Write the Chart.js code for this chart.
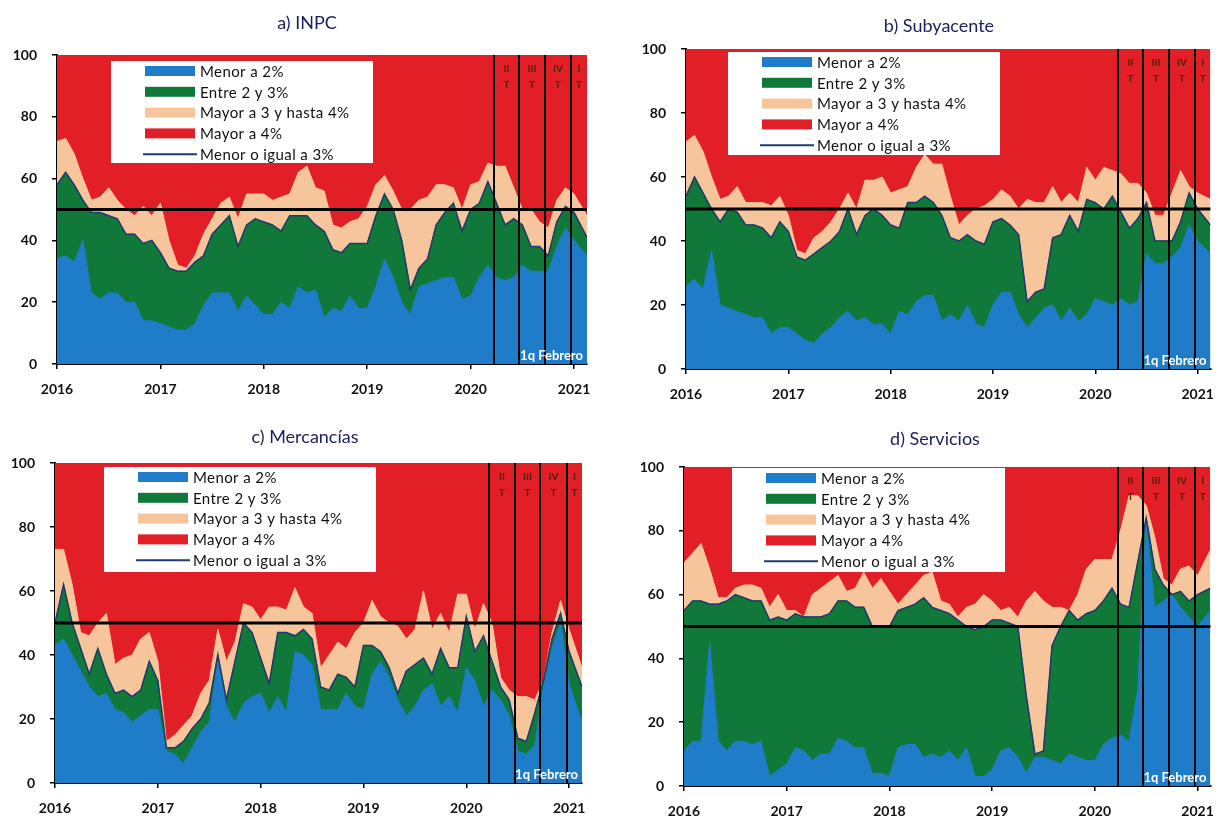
<!DOCTYPE html>
<html>
<head>
<meta charset="utf-8">
<script src="https://cdn.jsdelivr.net/npm/chart.js@4.4.0/dist/chart.umd.min.js"></script>
<style>
  body { margin: 0; background: #fff; width: 1226px; height: 818px; position: relative; overflow: hidden; font-family: Lato, sans-serif; }
  canvas { position: absolute; }
  .titulo { position: absolute; font-size: 18px; color: #1b1f5e; transform: translate(-50%, -50%); white-space: nowrap; }
</style>
</head>
<body>
<canvas id="g-a" width="613" height="409" style="left:0;top:0"></canvas>
<canvas id="g-b" width="613" height="409" style="left:613px;top:0"></canvas>
<canvas id="g-c" width="613" height="409" style="left:0;top:409px"></canvas>
<canvas id="g-d" width="613" height="409" style="left:613px;top:409px"></canvas>
<div class="titulo" style="left:307px;top:22px">a) INPC</div>
<div class="titulo" style="left:939px;top:25px">b) Subyacente</div>
<div class="titulo" style="left:305px;top:436px">c) Mercancías</div>
<div class="titulo" style="left:935px;top:438px">d) Servicios</div>
<script>
// Periodos: mensual ene-2016 a ene-2021 y la primera quincena de febrero 2021
const periodos = [];
for (let anio = 2016; anio <= 2020; anio++) {
    for (let m = 1; m <= 12; m++) periodos.push(anio + '-' + String(m).padStart(2, '0'));
}
periodos.push('2021-01', '2021-02 1q');

const aniosEje = [2016, 2017, 2018, 2019, 2020, 2021];
const cortesTrimestre = [2020.225, 2020.47, 2020.72, 2020.975];
const etiquetasTrimestre = ['II', 'III', 'IV', 'I'];
const nivelReferencia = 50;
const notaFinal = '1q Febrero';

// Porcentaje acumulado de genéricos: menor a 2%, menor o igual a 3%, hasta 4%
const inpcMenor2 = [34,35,33,40,23,21,23,23,20,20,14,14, 13,12,11,11,13,19,23,23,23,17,22,19, 16,16,20,18,25,23,24,15,18,17,22,18, 18,25,34,28,20,16,25,26,27,28,28,21, 22,28,32,28,27,28,32,30,30,30,38,44, 40,35];
const inpcHasta3 = [58,62,58,53,49,49,48,47,42,42,39,40, 36,31,30,30,33,35,42,45,48,38,45,47, 46,45,43,48,48,48,45,43,37,36,39,39, 39,48,55,50,40,24,31,34,45,49,52,43, 50,52,59,52,45,47,45,38,38,35,46,51, 49,41];
const inpcHasta4 = [72,73,68,60,53,54,57,53,50,48,51,48, 52,40,32,31,35,42,47,52,54,47,55,55, 55,53,54,55,62,64,57,56,45,44,46,47, 51,58,61,56,50,50,53,54,58,58,57,50, 58,59,65,64,64,57,50,50,46,44,53,57, 55,48];

const subyMenor2 = [26,28,25,37,20,19,18,17,16,16,11,13, 13,11,9,8,11,13,16,18,15,16,14,14, 11,18,17,21,23,23,15,17,15,20,14,13, 20,24,24,17,13,16,19,20,15,19,15,17, 22,21,20,22,20,21,36,33,33,35,38,45, 40,36];
const subyHasta3 = [54,60,55,50,46,50,49,45,45,44,41,46, 43,35,34,36,38,40,43,50,42,48,50,48, 45,44,52,52,54,52,48,41,40,42,40,39, 46,47,45,42,21,24,25,41,42,48,43,53, 52,50,54,49,44,47,52,40,40,40,46,55, 50,45];
const subyHasta4 = [71,73,68,60,53,54,57,52,52,52,51,54, 48,37,36,41,43,46,50,55,50,59,59,60, 55,56,57,63,67,64,64,54,45,48,50,51, 53,56,54,50,53,52,52,57,52,55,52,63, 59,63,62,61,58,58,55,48,48,55,62,57, 55,53];

const mercMenor2 = [43,45,40,35,30,27,28,23,22,19,21,23, 23,10,9,6,11,16,19,38,24,19,25,27, 28,22,27,22,41,40,37,23,23,23,28,24, 23,34,38,33,26,21,24,29,31,24,27,22, 36,32,24,29,26,21,10,9,12,30,42,50, 31,19];
const mercHasta3 = [50,62,50,42,34,42,34,28,29,27,29,38, 32,11,11,13,17,20,25,40,26,38,50,47, 39,31,47,47,46,48,45,30,29,34,33,30, 43,43,41,36,28,35,37,39,34,42,36,36, 52,41,46,38,30,26,14,13,22,32,45,53, 41,30];
const mercHasta4 = [73,73,62,47,46,50,53,37,39,40,45,47, 38,13,15,18,21,28,32,48,38,44,56,55, 51,55,55,54,61,55,53,36,40,44,42,47, 50,57,52,50,49,45,48,60,48,53,47,59, 59,48,56,50,33,29,27,27,26,32,47,57, 48,36];

const servMenor2 = [11,14,14,45,14,11,14,14,13,14,3,5, 7,12,11,8,10,10,15,14,12,12,4,4, 3,12,13,13,9,10,9,11,8,12,3,3, 5,11,12,9,4,9,9,8,7,10,9,8, 8,13,15,16,14,30,83,56,58,60,56,53, 50,55];
const servHasta3 = [55,58,58,57,57,58,60,59,58,58,52,53, 52,54,53,53,53,54,58,58,56,56,50,50, 50,55,56,57,59,56,55,54,52,50,49,50, 52,52,51,50,28,10,11,44,50,55,52,54, 55,58,62,57,56,70,84,68,63,60,61,58, 60,62];
const servHasta4 = [70,73,76,68,59,59,62,63,63,62,56,60, 55,55,53,60,62,64,66,61,62,67,62,65, 61,57,60,63,66,67,58,57,53,56,57,60, 58,55,56,53,58,61,58,56,56,55,60,68, 71,71,71,80,91,91,88,78,65,63,68,69, 66,74];

const colores = { menor2: '#1f7cc8', entre23: '#10793a', entre34: '#f7c59b', mayor4: '#e21f26', linea: '#1f3a6e' };
const leyenda = [
    { texto: 'Menor a 2%', color: colores.menor2, tipo: 'caja' },
    { texto: 'Entre 2 y 3%', color: colores.entre23, tipo: 'caja' },
    { texto: 'Mayor a 3 y hasta 4%', color: colores.entre34, tipo: 'caja' },
    { texto: 'Mayor a 4%', color: colores.mayor4, tipo: 'caja' },
    { texto: 'Menor o igual a 3%', color: colores.linea, tipo: 'linea' }
];

function posicion(p) {
    const anio = +p.slice(0, 4), mes = +p.slice(5, 7);
    return anio + (mes - 1) / 12 + (p.includes('1q') ? 0.5 / 12 : 0);
}
const xs = periodos.map(posicion);
const puntos = serie => serie.map((v, i) => ({ x: xs[i], y: v }));

const overlay = {
    id: 'overlay',
    afterDatasetsDraw(chart, args, opts) {
        const { ctx, chartArea: a, scales: { x, y } } = chart;
        ctx.save();
        ctx.strokeStyle = '#000';
        // linea horizontal en 50
        const y50 = y.getPixelForValue(nivelReferencia);
        ctx.lineWidth = 3;
        ctx.beginPath(); ctx.moveTo(a.left, y50); ctx.lineTo(a.right, y50); ctx.stroke();
        // cortes de trimestre
        ctx.lineWidth = 2;
        const px = cortesTrimestre.map(v => Math.round(x.getPixelForValue(v)));
        px.forEach(p => { ctx.beginPath(); ctx.moveTo(p, a.top); ctx.lineTo(p, a.bottom); ctx.stroke(); });
        const bordes = px.concat(a.right);
        ctx.fillStyle = '#4a230c';
        ctx.font = 'bold 10px Lato';
        ctx.textAlign = 'center';
        ctx.textBaseline = 'middle';
        etiquetasTrimestre.forEach((t, i) => {
            const cx = (bordes[i] + bordes[i + 1]) / 2;
            ctx.fillText(t, cx, a.top + 14);
            ctx.fillText('T', cx, a.top + 30);
        });
        // nota
        ctx.fillStyle = '#fff';
        ctx.font = 'bold 13px Lato';
        ctx.textAlign = 'right';
        ctx.textBaseline = 'alphabetic';
        ctx.fillText(notaFinal, a.right - 4, a.bottom - 4);
        // leyenda
        const [lx, ly, lw, lh] = opts.caja;
        const bx = a.left + lx, by = a.top + ly;
        ctx.fillStyle = '#fff';
        ctx.fillRect(bx, by, lw, lh);
        ctx.font = '15px Lato';
        ctx.letterSpacing = '0.4px';
        ctx.textAlign = 'left';
        ctx.textBaseline = 'middle';
        leyenda.forEach((item, i) => {
            const cy = by + 10 + i * 20.8;
            if (item.tipo === 'caja') {
                ctx.fillStyle = item.color;
                ctx.fillRect(bx + 34, cy - 5, 50, 10);
            } else {
                ctx.strokeStyle = item.color;
                ctx.lineWidth = 2;
                ctx.beginPath(); ctx.moveTo(bx + 32, cy); ctx.lineTo(bx + 86, cy); ctx.stroke();
            }
            ctx.fillStyle = '#111';
            ctx.fillText(item.texto, bx + 89, cy + 1);
        });
        ctx.restore();
    }
};

function dibujarPanel(id, menor2, hasta3, hasta4, area, caja) {
    const [izq, arriba, der, abajo] = area;
    const ctx = document.getElementById(id).getContext('2d');
    const ejeComun = {
        z: 1,
        border: { display: true, color: '#000', width: 2 },
        grid: { display: true, drawOnChartArea: false, drawTicks: true, tickLength: 5, color: '#000', lineWidth: 1.5 },
        ticks: { color: '#111', font: { family: 'Lato', size: 14, weight: 'bold' } }
    };
    return new Chart(ctx, {
        type: 'line',
        data: {
            datasets: [
                { label: 'Menor o igual a 3%', data: puntos(hasta3), borderColor: colores.linea, borderWidth: 1.5, fill: false },
                { label: 'Menor a 2%', data: puntos(menor2), borderColor: colores.menor2, backgroundColor: colores.menor2, borderWidth: 1, fill: 'origin' },
                { label: 'Entre 2 y 3%', data: puntos(hasta3), borderColor: colores.entre23, backgroundColor: colores.entre23, borderWidth: 1, fill: 'origin' },
                { label: 'Mayor a 3 y hasta 4%', data: puntos(hasta4), borderColor: colores.entre34, backgroundColor: colores.entre34, borderWidth: 1, fill: 'origin' },
                { label: 'Mayor a 4%', data: puntos(hasta4), borderColor: colores.mayor4, backgroundColor: colores.mayor4, borderWidth: 1, fill: 'end' }
            ]
        },
        options: {
            responsive: false,
            animation: false,
            layout: { padding: { left: 0, top: arriba, right: 613 - der, bottom: 0 } },
            elements: { point: { radius: 0 }, line: { tension: 0 } },
            plugins: { legend: { display: false }, tooltip: { enabled: false }, overlay: { caja } },
            scales: {
                x: {
                    ...ejeComun,
                    type: 'linear',
                    min: xs[0],
                    max: xs[xs.length - 1],
                    afterBuildTicks: s => { s.ticks = aniosEje.map(v => ({ value: v })); },
                    afterFit: s => { s.height = 409 - abajo; },
                    ticks: { ...ejeComun.ticks, padding: 12, callback: v => String(v) }
                },
                y: {
                    ...ejeComun,
                    min: 0,
                    max: 100,
                    afterFit: s => { s.width = izq; },
                    ticks: { ...ejeComun.ticks, stepSize: 20, padding: 15 }
                }
            }
        },
        plugins: [overlay]
    });
}

dibujarPanel('g-a', inpcMenor2, inpcHasta3, inpcHasta4, [57, 55, 587, 364], [54, 6, 262, 102]);
dibujarPanel('g-b', subyMenor2, subyHasta3, subyHasta4, [73, 49, 608, 369], [42, 3, 272, 103]);
dibujarPanel('g-c', mercMenor2, mercHasta3, mercHasta4, [55, 54, 582, 374], [49, 4, 272, 105]);
dibujarPanel('g-d', servMenor2, servHasta3, servHasta4, [71, 58, 605, 377], [48, 1, 273, 104]);
</script>
</body>
</html>
